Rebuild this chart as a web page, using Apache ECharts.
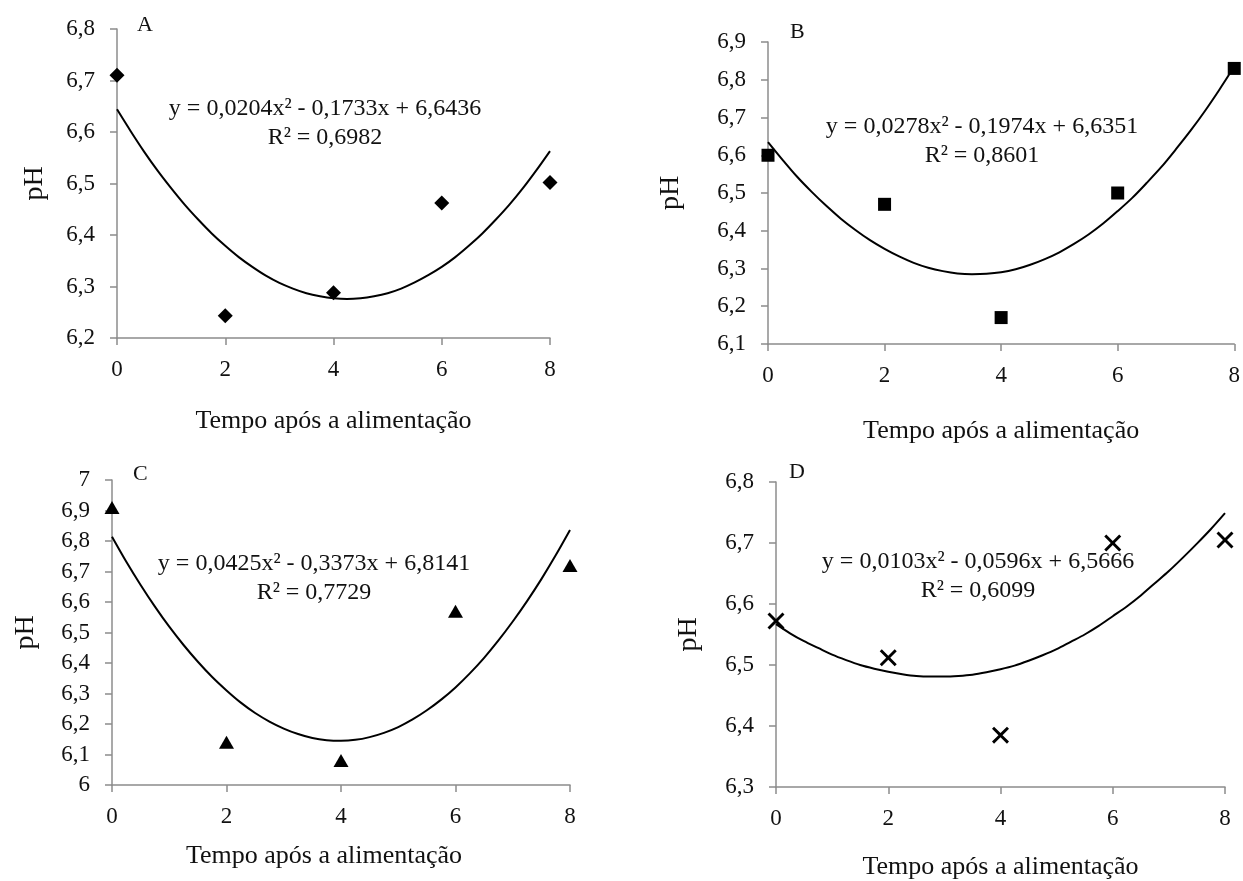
<!DOCTYPE html>
<html>
<head>
<meta charset="utf-8">
<script src="https://cdn.jsdelivr.net/npm/echarts@6/dist/echarts.min.js"></script>
<style>
  html, body { margin: 0; padding: 0; background: #fff; }
  #chart { width: 1243px; height: 881px; }
</style>
</head>
<body>
<div id="chart"></div>
<script>
const xTimes = [0, 2, 4, 6, 8];
const phA = [6.71, 6.243, 6.288, 6.462, 6.502];
const phB = [6.60, 6.47, 6.17, 6.50, 6.83];
const phC = [6.91, 6.14, 6.08, 6.57, 6.72];
const phD = [6.572, 6.512, 6.385, 6.70, 6.705];

// trend curves every quarter hour
const fitX = [0, 0.25, 0.5, 0.75, 1, 1.25, 1.5, 1.75, 2, 2.25, 2.5, 2.75, 3, 3.25, 3.5, 3.75, 4,
    4.25, 4.5, 4.75, 5, 5.25, 5.5, 5.75, 6, 6.25, 6.5, 6.75, 7, 7.25, 7.5, 7.75, 8];
const fitA = [6.644, 6.602, 6.562, 6.525, 6.491, 6.459, 6.430, 6.403, 6.379, 6.357, 6.338, 6.321, 6.307, 6.296, 6.287, 6.281, 6.277,
    6.2755, 6.277, 6.281, 6.287, 6.296, 6.308, 6.322, 6.338, 6.357, 6.379, 6.403, 6.430, 6.459, 6.491, 6.526, 6.563];
const fitB = [6.635, 6.588, 6.543, 6.503, 6.466, 6.432, 6.402, 6.375, 6.352, 6.332, 6.315, 6.302, 6.293, 6.287, 6.285, 6.286, 6.290,
    6.298, 6.310, 6.325, 6.343, 6.365, 6.390, 6.419, 6.452, 6.487, 6.527, 6.569, 6.616, 6.665, 6.718, 6.775, 6.835];
const fitC = [6.814, 6.732, 6.656, 6.585, 6.519, 6.459, 6.404, 6.354, 6.310, 6.270, 6.236, 6.208, 6.185, 6.167, 6.154, 6.147, 6.145,
    6.148, 6.157, 6.171, 6.190, 6.215, 6.245, 6.280, 6.320, 6.366, 6.417, 6.474, 6.536, 6.603, 6.675, 6.753, 6.836];
const fitD = [6.567, 6.552, 6.539, 6.528, 6.517, 6.508, 6.500, 6.494, 6.489, 6.485, 6.482, 6.481, 6.481, 6.482, 6.484, 6.488, 6.493,
    6.499, 6.507, 6.516, 6.526, 6.538, 6.550, 6.564, 6.580, 6.596, 6.614, 6.634, 6.654, 6.676, 6.699, 6.723, 6.749];

const panelLetters = ["A", "B", "C", "D"];
const equations = [
    "y = 0,0204x² - 0,1733x + 6,6436\nR² = 0,6982",
    "y = 0,0278x² - 0,1974x + 6,6351\nR² = 0,8601",
    "y = 0,0425x² - 0,3373x + 6,8141\nR² = 0,7729",
    "y = 0,0103x² - 0,0596x + 6,5666\nR² = 0,6099",
];
const yRanges = [[6.2, 6.8], [6.1, 6.9], [6.0, 7.0], [6.3, 6.8]];
const xName = "Tempo após a alimentação";
const yName = "pH";

const FONT = "'Liberation Serif', 'Times New Roman', serif";
const axisGray = "#8c8c8c";

const grids = [
    { left: 117, top: 29, width: 433, height: 309 },
    { left: 768, top: 42, width: 468, height: 302 },
    { left: 112, top: 480, width: 458, height: 305 },
    { left: 776, top: 482, width: 449, height: 307 },
];
const xNameGaps = [70, 74, 58, 67];
const xNamePads = [[0, 0, 0, 0], [0, 0, 0, 0], [0, 34, 0, 0], [0, 0, 0, 0]];
const yNameGaps = [68, 83, 72, 73];
const eqPos = [[325, 123], [982, 141], [314, 578], [978, 576]];
const letterPos = [[137, 25], [790, 32], [133, 474], [789, 472]];

const fmt = (v) => String(Math.round(v * 10) / 10).replace(".", ",");

const makeXAxis = (i) => ({
    type: "value",
    gridIndex: i,
    min: 0,
    max: 8,
    interval: 2,
    name: xName,
    nameLocation: "middle",
    nameGap: xNameGaps[i],
    nameTextStyle: { fontFamily: FONT, fontSize: 26, color: "#111", padding: xNamePads[i] },
    axisLine: { onZero: false, lineStyle: { color: axisGray, width: 1.5 } },
    axisTick: { show: true, length: 7, lineStyle: { color: axisGray, width: 1.5 } },
    axisLabel: { margin: 20, fontFamily: FONT, fontSize: 23, color: "#111" },
    splitLine: { show: false },
});

const makeYAxis = (i) => ({
    type: "value",
    gridIndex: i,
    min: yRanges[i][0],
    max: yRanges[i][1],
    interval: 0.1,
    name: yName,
    nameLocation: "middle",
    nameRotate: 90,
    nameGap: yNameGaps[i],
    nameTextStyle: { fontFamily: FONT, fontSize: 28, color: "#111" },
    axisLine: { show: true, onZero: false, lineStyle: { color: axisGray, width: 1.5 } },
    axisTick: { show: true, length: 7, lineStyle: { color: axisGray, width: 1.5 } },
    axisLabel: { margin: 22, fontFamily: FONT, fontSize: 23, color: "#111", formatter: fmt },
    splitLine: { show: false },
});

const xMark = "path://M0,1.2L1.2,0L5,3.8L8.8,0L10,1.2L6.2,5L10,8.8L8.8,10L5,6.2L1.2,10L0,8.8L3.8,5Z";
const points = [phA, phB, phC, phD];
const fits = [fitA, fitB, fitC, fitD];
const symbols = ["diamond", "rect", "triangle", xMark];
const symbolSizes = [[15, 15], [13, 13], [15, 13], [17, 17]];

const series = [];
for (let i = 0; i < 4; i++) {
    series.push({
        type: "line",
        xAxisIndex: i,
        yAxisIndex: i,
        data: fitX.map((x, k) => [x, fits[i][k]]),
        smooth: 0.3,
        symbol: "none",
        lineStyle: { color: "#000", width: 2 },
        z: 2,
    });
    series.push({
        type: "scatter",
        xAxisIndex: i,
        yAxisIndex: i,
        data: xTimes.map((x, k) => [x, points[i][k]]),
        symbol: symbols[i],
        symbolSize: symbolSizes[i],
        itemStyle: { color: "#000", opacity: 1 },
        z: 3,
    });
}

const graphics = [];
for (let i = 0; i < 4; i++) {
    graphics.push({
        type: "text",
        x: eqPos[i][0],
        y: eqPos[i][1],
        style: {
            text: equations[i],
            fontFamily: FONT,
            fontSize: 24,
            lineHeight: 29,
            fill: "#111",
            align: "center",
            verticalAlign: "middle",
        },
    });
    graphics.push({
        type: "text",
        x: letterPos[i][0],
        y: letterPos[i][1],
        style: {
            text: panelLetters[i],
            fontFamily: FONT,
            fontSize: 22,
            fill: "#111",
            align: "left",
            verticalAlign: "middle",
        },
    });
}

const chart = echarts.init(document.getElementById("chart"));
chart.setOption({
    animation: false,
    backgroundColor: "#fff",
    grid: grids,
    xAxis: [0, 1, 2, 3].map(makeXAxis),
    yAxis: [0, 1, 2, 3].map(makeYAxis),
    series: series,
    graphic: graphics,
});
</script>
</body>
</html>
